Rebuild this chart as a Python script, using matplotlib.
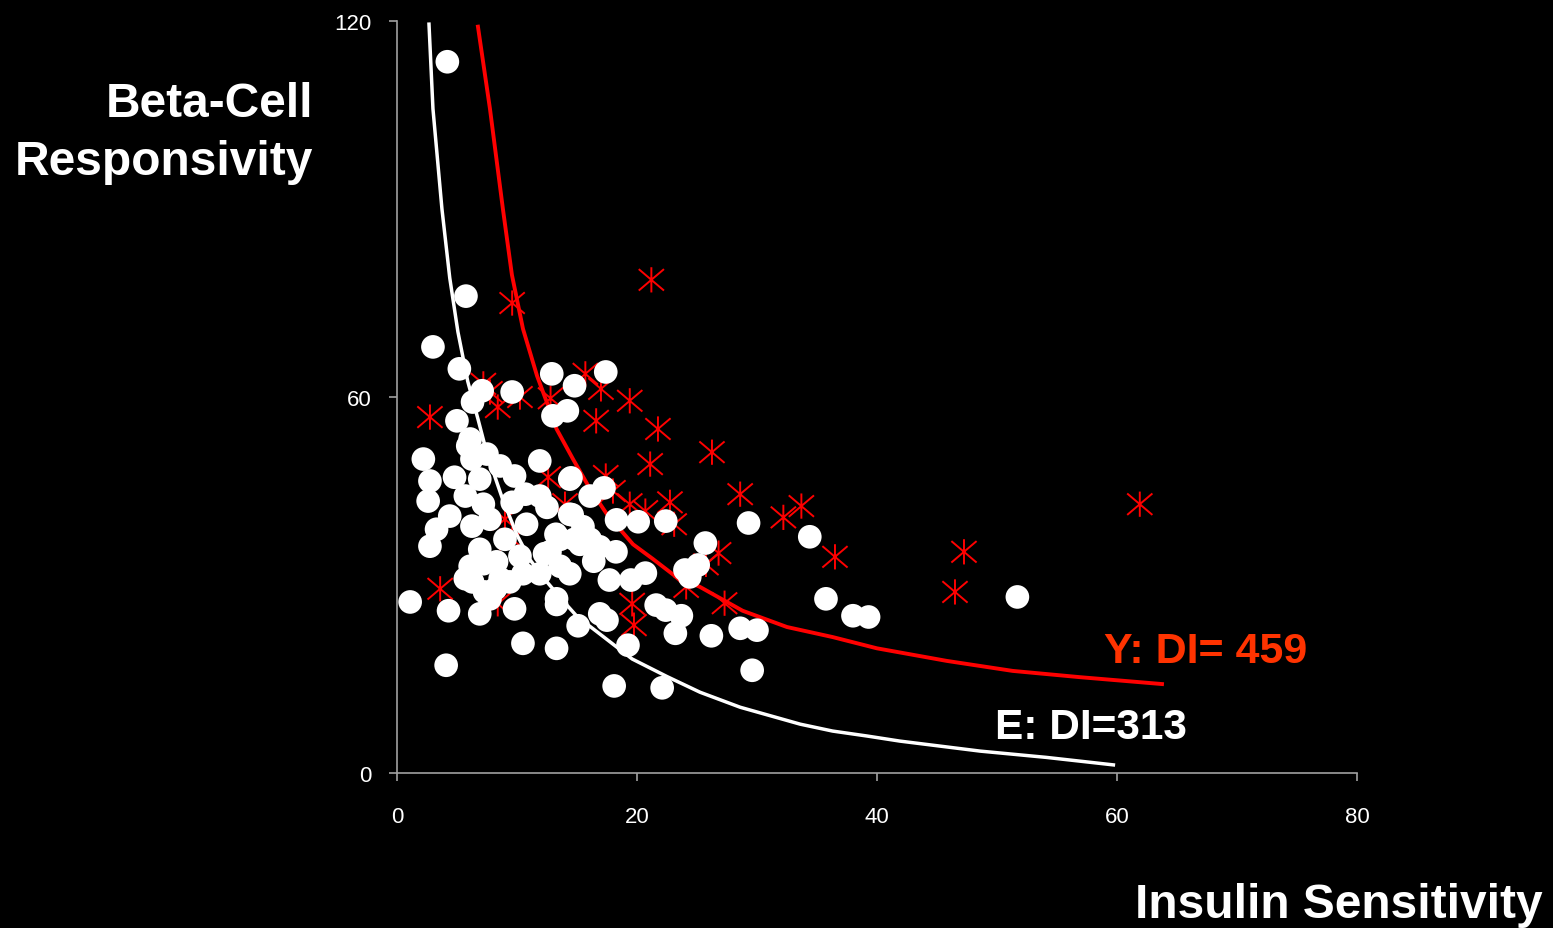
import numpy as np
import matplotlib.pyplot as plt
from matplotlib.path import Path

plt.rcParams['font.family'] = ['Liberation Sans', 'DejaVu Sans']

# E group (white circles)
e_sens = [4.2, 5.75, 3.0, 5.2, 7.1, 6.3, 9.6, 12.9, 14.8, 17.4, 13.0, 14.2, 5.0, 2.2,
          5.9, 11.9, 2.75, 2.6, 3.3, 2.75, 4.4, 4.8, 6.25, 6.9, 8.6, 9.8, 11.9, 12.5,
          14.4, 14.4, 10.8, 9.6, 7.2, 6.25, 6.9, 8.3, 10.25, 12.75, 13.6, 6.1, 6.3, 9.4,
          1.1, 4.3, 4.1, 10.5, 13.3, 13.3, 15.1, 16.9, 17.5, 17.7, 18.25, 18.1, 19.25,
          19.5, 20.7, 20.1, 18.3, 16.4, 21.6, 22.4, 23.2, 23.7, 24.0, 25.1, 25.7, 22.4,
          22.1, 26.2, 28.6, 30.0, 29.6, 29.3, 34.4, 35.75, 38.0, 39.3, 51.7, 17.25, 16.1,
          14.5, 14.6, 7.75, 9.8, 8.2, 15.25, 16.1, 13.6, 11.9, 14.4, 10.5, 16.9, 5.7,
          7.75, 9.0, 5.7, 7.2, 14.8, 10.7, 7.5, 13.25, 15.5, 6.9, 7.3, 6.1, 8.6, 12.3,
          24.4, 13.3]
e_resp = [113.5, 76.1, 68.0, 64.5, 61.0, 59.2, 60.8, 63.7, 61.8, 64.0, 57.0, 57.8, 56.2,
          50.1, 52.2, 49.8, 46.6, 43.4, 38.9, 36.2, 41.0, 47.2, 50.1, 46.9, 49.0, 47.4,
          44.2, 42.4, 46.9, 41.3, 39.7, 43.2, 42.9, 39.4, 35.7, 33.7, 34.6, 35.3, 33.0,
          33.0, 30.5, 30.5, 27.3, 25.9, 17.2, 20.7, 19.9, 27.8, 23.5, 25.4, 24.4, 30.8,
          35.3, 13.9, 20.4, 30.8, 31.9, 40.1, 40.4, 33.8, 26.8, 26.0, 22.3, 25.1, 32.4,
          33.2, 36.7, 40.2, 13.6, 21.9, 23.1, 22.8, 16.4, 39.9, 37.7, 27.8, 25.1, 24.9,
          28.1, 45.5, 44.2, 47.1, 41.2, 27.8, 26.2, 29.4, 36.5, 37.3, 37.3, 31.8, 31.8,
          31.8, 36.1, 44.2, 40.5, 37.3, 31.0, 33.4, 37.3, 44.5, 50.9, 38.1, 39.3, 25.4,
          28.9, 53.3, 31.0, 35.0, 31.3, 26.9]

# Y group (red asterisks)
y_sens = [2.75, 9.6, 21.2, 7.2, 15.7, 17.0, 19.4, 21.75, 16.6, 12.8, 10.25, 8.4, 7.75,
          17.4, 21.1, 26.25, 28.6, 22.75, 20.7, 19.4, 23.1, 33.7, 32.2, 36.5, 26.8, 25.75,
          27.3, 24.1, 19.6, 19.75, 47.25, 46.5, 61.9, 3.6, 12.6, 14.0, 9.0, 9.6, 8.4, 18.0]
y_resp = [56.8, 75.0, 78.7, 62.1, 63.7, 61.3, 59.4, 54.9, 56.2, 59.8, 60.0, 58.4, 60.8,
          47.4, 49.3, 51.2, 44.5, 43.2, 41.8, 42.9, 39.7, 42.6, 40.8, 34.5, 35.1, 33.3,
          27.1, 29.7, 27.0, 23.6, 35.3, 28.9, 42.9, 29.4, 47.2, 42.9, 40.5, 37.3, 27.0, 45.0]

# disposition index curves
e_curve_x = [2.67, 3.0, 3.75, 4.4, 5.08, 5.9, 6.75, 7.5, 8.75, 10.0, 11.1, 12.5, 13.6,
             15.0, 16.9, 19.6, 22.5, 25.25, 28.6, 33.6, 36.3, 39.2, 41.9, 48.6, 54.1, 59.7]
e_curve_y = [119.5, 106.0, 90.0, 79.0, 70.4, 62.5, 56.5, 51.0, 44.0, 38.0, 34.0, 30.5,
             28.0, 25.0, 22.2, 18.2, 15.4, 12.9, 10.5, 7.8, 6.7, 5.9, 5.1, 3.5, 2.5, 1.3]
y_curve_x = [6.75, 7.75, 8.83, 9.58, 10.5, 11.67, 12.6, 13.3, 14.67, 16.1, 17.5, 19.67,
             21.3, 23.2, 25.25, 28.8, 32.5, 36.3, 40.0, 45.8, 51.3, 56.9, 63.75]
y_curve_y = [119.1, 106.0, 90.0, 79.5, 70.9, 63.4, 58.6, 54.9, 50.1, 45.3, 41.3, 36.5,
             34.2, 31.4, 29.7, 25.9, 23.3, 21.7, 19.9, 17.9, 16.3, 15.3, 14.2]

xticks = [0, 20, 40, 60, 80]
yticks = [0, 60, 120]

# asterisk: vertical bar plus an X
star = Path([(0, -1), (0, 1), (-1, -0.85), (1, 0.85), (-1, 0.85), (1, -0.85)],
            [Path.MOVETO, Path.LINETO, Path.MOVETO, Path.LINETO, Path.MOVETO, Path.LINETO])

fig = plt.figure(figsize=(15.53, 9.29), dpi=100, facecolor='black')
ax = fig.add_axes([0.2556, 0.1668, 0.6182, 0.8095], facecolor='black')

ax.scatter(y_sens, y_resp, marker=star, s=330, facecolor='none', edgecolor='#ff0000',
           linewidth=1.4, zorder=2)
ax.plot(y_curve_x, y_curve_y, color='#ff0000', lw=2.8, zorder=3)
ax.plot(e_curve_x, e_curve_y, color='white', lw=2.5, zorder=3)
ax.scatter(e_sens, e_resp, s=290, color='white', edgecolor='none', zorder=4)

ax.set_xlim(0, 80)
ax.set_ylim(0, 120)
ax.set_xticks(xticks)
ax.set_yticks(yticks)
for s in ['top', 'right']:
    ax.spines[s].set_visible(False)
for s in ['left', 'bottom']:
    ax.spines[s].set_color('#a0a0a0')
    ax.spines[s].set_linewidth(1.2)
ax.tick_params(colors='#a0a0a0', labelcolor='white', labelsize=16, length=6, width=1.2)
ax.tick_params(axis='x', pad=18)
ax.tick_params(axis='y', pad=12)

fig.text(0.2015, 0.8875, 'Beta-Cell', color='white', fontsize=34.5, fontweight='bold',
         ha='right', va='center')
fig.text(0.2015, 0.8255, 'Responsivity', color='white', fontsize=34.5, fontweight='bold',
         ha='right', va='center')
fig.text(0.9935, 0.0255, 'Insulin Sensitivity', color='white', fontsize=34.5,
         fontweight='bold', ha='right', va='center')
ax.text(58.9, 19.5, 'Y: DI= 459', color='#ff3300', fontsize=31, fontweight='bold',
        ha='left', va='center')
ax.text(49.8, 7.4, 'E: DI=313', color='white', fontsize=30.5, fontweight='bold',
        ha='left', va='center')

fig.savefig('out.png', dpi=100, facecolor='black')
